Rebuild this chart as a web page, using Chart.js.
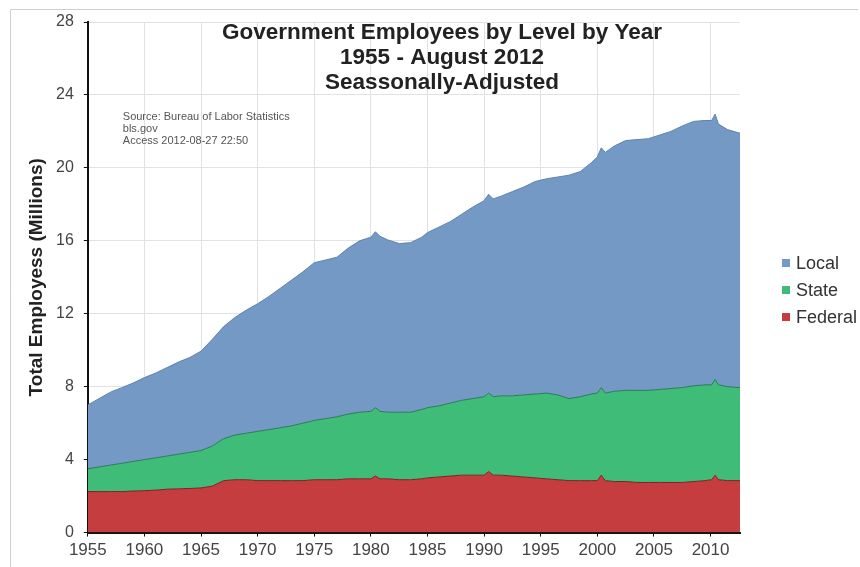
<!DOCTYPE html>
<html>
<head>
<meta charset="utf-8">
<script src="https://cdn.jsdelivr.net/npm/chart.js@4/dist/chart.umd.min.js"></script>
<style>
  html, body { margin: 0; padding: 0; background: #fff; }
  #wrap { width: 860px; height: 567px; position: relative; }
</style>
</head>
<body>
<div id="wrap"><canvas id="grafico" width="860" height="567"></canvas></div>
<script>
// años (decimales), con los picos del censo en 1980, 1990, 2000 y 2010
const anios = [1955, 1956, 1957, 1958, 1959, 1960, 1961, 1962, 1963, 1964,
  1965, 1966, 1967, 1968, 1969, 1970, 1971, 1972, 1973, 1974,
  1975, 1976, 1977, 1978, 1979, 1980, 1980.4, 1980.8, 1981.5, 1982.5,
  1983.5, 1984.5, 1985, 1986, 1987, 1988, 1989, 1990, 1990.4, 1990.8,
  1991.5, 1992.5, 1993.5, 1994.5, 1995.5, 1996.5, 1997.5, 1998.5, 1999.5, 2000,
  2000.35, 2000.7, 2001.5, 2002.5, 2003.5, 2004.5, 2005.5, 2006.5, 2007.5, 2008.5,
  2009.5, 2010.1, 2010.4, 2010.7, 2011.5, 2012.6];

// millones de empleados
const federal = [2.25, 2.25, 2.25, 2.25, 2.28, 2.3, 2.33, 2.38, 2.4, 2.42,
  2.45, 2.55, 2.85, 2.9, 2.9, 2.85, 2.85, 2.85, 2.85, 2.85,
  2.9, 2.9, 2.9, 2.95, 2.95, 2.95, 3.1, 2.95, 2.95, 2.9,
  2.9, 2.95, 3.0, 3.05, 3.1, 3.15, 3.15, 3.15, 3.35, 3.15,
  3.15, 3.1, 3.05, 3.0, 2.95, 2.9, 2.85, 2.85, 2.85, 2.85,
  3.15, 2.85, 2.8, 2.8, 2.75, 2.75, 2.75, 2.75, 2.75, 2.8,
  2.85, 2.9, 3.15, 2.9, 2.85, 2.85];

const estatal = [1.25, 1.35, 1.45, 1.55, 1.62, 1.7, 1.77, 1.82, 1.9, 1.98,
  2.05, 2.2, 2.3, 2.45, 2.55, 2.7, 2.8, 2.9, 3.0, 3.15,
  3.25, 3.35, 3.45, 3.55, 3.65, 3.7, 3.75, 3.7, 3.65, 3.7,
  3.7, 3.8, 3.85, 3.9, 4.0, 4.1, 4.2, 4.3, 4.3, 4.3,
  4.35, 4.4, 4.5, 4.6, 4.7, 4.65, 4.5, 4.6, 4.75, 4.8,
  4.8, 4.8, 4.95, 5.0, 5.05, 5.05, 5.1, 5.15, 5.2, 5.25,
  5.25, 5.2, 5.25, 5.2, 5.15, 5.1];

const local = [3.5, 3.75, 4.0, 4.15, 4.3, 4.5, 4.65, 4.85, 5.05, 5.2,
  5.45, 5.85, 6.15, 6.45, 6.75, 7.0, 7.3, 7.65, 8.0, 8.3,
  8.65, 8.7, 8.75, 9.1, 9.4, 9.55, 9.65, 9.6, 9.45, 9.25,
  9.3, 9.45, 9.6, 9.8, 9.95, 10.2, 10.5, 10.75, 10.9, 10.85,
  10.95, 11.2, 11.4, 11.65, 11.75, 11.95, 12.25, 12.35, 12.7, 12.95,
  13.15, 13.2, 13.45, 13.7, 13.75, 13.8, 13.95, 14.1, 14.35, 14.5,
  14.5, 14.5, 14.55, 14.3, 14.1, 13.95];

const ticksX = [1955, 1960, 1965, 1970, 1975, 1980, 1985, 1990, 1995, 2000, 2005, 2010];
const ticksY = [0, 4, 8, 12, 16, 20, 24, 28];

const titulo = ['Government Employees by Level by Year', '1955 - August 2012', 'Seassonally-Adjusted'];
const fuente = ['Source: Bureau of Labor Statistics', 'bls.gov', 'Access 2012-08-27 22:50'];

function puntos(valores) {
    return valores.map((v, i) => ({ x: anios[i], y: v }));
}

const FUENTE = '"Liberation Sans", Arial, Helvetica, sans-serif';

// titulo, nota de la fuente, leyenda y marco gris
const textosPlugin = {
    id: 'textos',
    afterDraw(chart) {
        const ctx = chart.ctx;
        const area = chart.chartArea;
        ctx.save();
        ctx.strokeStyle = '#cfcfcf';
        ctx.lineWidth = 1;
        ctx.beginPath();
        ctx.moveTo(10.5, 567);
        ctx.lineTo(10.5, 9.5);
        ctx.lineTo(858, 9.5);
        ctx.stroke();

        ctx.fillStyle = '#222';
        ctx.textAlign = 'center';
        ctx.textBaseline = 'middle';
        ctx.font = 'bold 22.5px ' + FUENTE;
        titulo.forEach((linea, i) => {
            ctx.fillText(linea, 442, 33 + i * 25);
        });

        ctx.fillStyle = '#555';
        ctx.textAlign = 'left';
        ctx.font = '11px ' + FUENTE;
        fuente.forEach((linea, i) => {
            ctx.fillText(linea, area.left + 35, 117 + i * 12);
        });

        // leyenda: Local, State, Federal
        ctx.font = '18px ' + FUENTE;
        const series = chart.data.datasets.slice().reverse();
        series.forEach((ds, i) => {
            const y = 263 + i * 27;
            ctx.fillStyle = ds.backgroundColor;
            ctx.fillRect(782, y - 4, 8, 8);
            ctx.fillStyle = '#333';
            ctx.fillText(ds.label, 796, y + 1);
        });
        ctx.restore();
    }
};

const ctx = document.getElementById('grafico').getContext('2d');
new Chart(ctx, {
    type: 'line',
    data: {
        datasets: [
            {
                label: 'Federal',
                data: puntos(federal),
                backgroundColor: '#c53d3f',
                borderColor: '#7a2226',
                borderWidth: 1,
                fill: 'origin',
                pointRadius: 0
            },
            {
                label: 'State',
                data: puntos(estatal),
                backgroundColor: '#3fbd78',
                borderColor: '#2a7a58',
                borderWidth: 1,
                fill: '-1',
                pointRadius: 0
            },
            {
                label: 'Local',
                data: puntos(local),
                backgroundColor: '#7399c4',
                borderColor: '#5f84b0',
                borderWidth: 1,
                fill: '-1',
                pointRadius: 0
            }
        ]
    },
    options: {
        responsive: false,
        animation: false,
        layout: { padding: { left: 23, top: 22, right: 120, bottom: 2 } },
        plugins: {
            legend: { display: false },
            tooltip: { enabled: false }
        },
        scales: {
            x: {
                type: 'linear',
                min: 1955,
                max: 2012.6,
                afterBuildTicks: axis => { axis.ticks = ticksX.map(v => ({ value: v })); },
                ticks: {
                    color: '#444',
                    padding: 4,
                    font: { family: FUENTE, size: 17 },
                    maxRotation: 0,
                    callback: v => String(v)
                },
                grid: { color: '#e2e2e2', tickColor: '#111', tickLength: 4 },
                border: { color: '#111', width: 2 }
            },
            y: {
                stacked: true,
                min: 0,
                max: 28,
                afterBuildTicks: axis => { axis.ticks = ticksY.map(v => ({ value: v })); },
                ticks: {
                    color: '#444',
                    padding: 10,
                    font: { family: FUENTE, size: 16 }
                },
                grid: { color: '#e2e2e2', tickColor: '#111', tickLength: 4 },
                border: { color: '#111', width: 2 },
                title: {
                    display: true,
                    text: 'Total Employess (Millions)',
                    color: '#222',
                    padding: { top: 4, bottom: 0 },
                    font: { family: FUENTE, size: 19, weight: 'bold', lineHeight: 1 }
                }
            }
        }
    },
    plugins: [textosPlugin]
});
</script>
</body>
</html>
